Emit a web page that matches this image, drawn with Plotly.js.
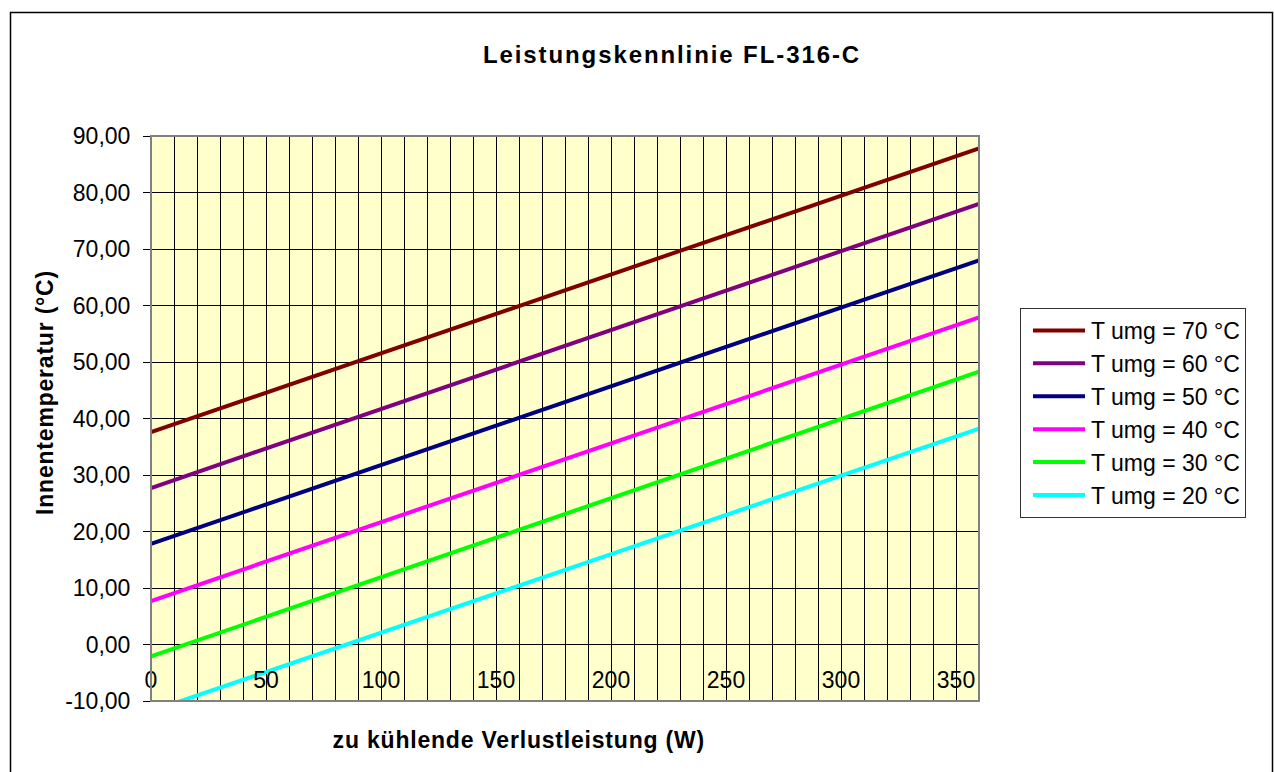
<!DOCTYPE html>
<html>
<head>
<meta charset="utf-8">
<script src="https://cdn.plot.ly/plotly-3.0.1.min.js"></script>
<style>
  html, body { margin: 0; padding: 0; background: #ffffff; }
  #chart { width: 1274px; height: 772px; }
  #chart .gtitle { letter-spacing: 1.9px; }
  #chart .annotation-text { letter-spacing: 0.8px; }
</style>
</head>
<body>
<div id="chart"></div>
<script>
// ---- data ----
const watts = [0, 360];                        // zu kühlende Verlustleistung (W)
const seriesNames = ['T umg = 70 °C', 'T umg = 60 °C', 'T umg = 50 °C',
                     'T umg = 40 °C', 'T umg = 30 °C', 'T umg = 20 °C'];
const tUmg70 = [37.6, 87.8];
const tUmg60 = [27.7, 78.0];
const tUmg50 = [17.8, 68.0];
const tUmg40 = [7.7, 57.9];
const tUmg30 = [-2.1, 48.3];
const tUmg20 = [-11.8, 38.2];
const seriesColors = ['#800000', '#800080', '#000080', '#FF00FF', '#00FF00', '#00FFFF'];

const yTickVals = [-10, 0, 10, 20, 30, 40, 50, 60, 70, 80, 90];
const yTickText = ['-10,00', '0,00', '10,00', '20,00', '30,00', '40,00',
                   '50,00', '60,00', '70,00', '80,00', '90,00'];
const xTickVals = [0, 50, 100, 150, 200, 250, 300, 350];
const xTickText = ['0', '50', '100', '150', '200', '250', '300', '350'];

const chartTitle = 'Leistungskennlinie FL-316-C';
const xTitle = 'zu kühlende Verlustleistung (W)';
const yTitle = 'Innentemperatur (°C)';

// ---- build ----
const FONT = 'Liberation Sans, Arial, sans-serif';
const FS = 23;
const ys = [tUmg70, tUmg60, tUmg50, tUmg40, tUmg30, tUmg20];
const traces = ys.map((y, i) => ({
  type: 'scatter',
  mode: 'lines',
  x: watts,
  y: y,
  name: seriesNames[i],
  legendgroup: 'g' + i,
  line: { color: seriesColors[i], width: 4 },
  hoverinfo: 'x+y+name'
}));

const layout = {
  width: 1274,
  height: 772,
  margin: { l: 151, r: 295, t: 136, b: 71, pad: 0 },
  paper_bgcolor: '#ffffff',
  plot_bgcolor: '#FFFFCC',
  font: { family: FONT, size: FS, color: '#000000' },
  title: {
    text: '<b>' + chartTitle + '</b>',
    font: { family: FONT, size: 24, color: '#000000' },
    xref: 'container', yref: 'container',
    x: 672 / 1274, y: 1 - 55 / 772,
    xanchor: 'center', yanchor: 'middle'
  },
  showlegend: true,
  legend: {
    x: (1020 - 151) / 828, y: (701 - 308) / 565,
    xanchor: 'left', yanchor: 'top',
    bgcolor: '#ffffff',
    bordercolor: '#333333', borderwidth: 1,
    font: { family: FONT, size: FS, color: '#000000' },
    tracegroupgap: 3,
    traceorder: 'normal',
    itemwidth: 60
  },
  xaxis: {
    range: [0, 360],
    anchor: 'free',
    position: 0.066,
    tickmode: 'array',
    tickvals: xTickVals,
    ticktext: xTickText,
    ticks: '',
    showline: false,
    zeroline: false,
    showgrid: true,
    gridcolor: '#000000',
    gridwidth: 1,
    minor: { dtick: 10, showgrid: true, gridcolor: '#000000', gridwidth: 1, ticks: '' },
    tickfont: { family: FONT, size: FS, color: '#000000' },
    fixedrange: true
  },
  yaxis: {
    range: [-10, 90],
    tickmode: 'array',
    tickvals: yTickVals,
    ticktext: yTickText,
    ticks: 'outside',
    ticklen: 7,
    tickwidth: 1,
    tickcolor: '#000000',
    ticklabelstandoff: 8,
    showline: false,
    zeroline: false,
    showgrid: true,
    gridcolor: '#000000',
    gridwidth: 1,
    tickfont: { family: FONT, size: FS, color: '#000000' },
    fixedrange: true
  },
  shapes: [
    { type: 'rect', xref: 'paper', yref: 'paper', x0: 0, x1: 1, y0: 0, y1: 1,
      line: { color: '#808080', width: 2 }, layer: 'above' },
    { type: 'rect', xref: 'paper', yref: 'paper',
      x0: (10.5 - 151) / 828, x1: (1272.5 - 151) / 828,
      y0: (701 - 790) / 565, y1: (701 - 12.5) / 565,
      line: { color: '#000000', width: 1.5 }, layer: 'below' }
  ],
  annotations: [
    { text: '<b>' + xTitle + '</b>', xref: 'paper', yref: 'paper',
      x: (519 - 151) / 828, y: (701 - 740) / 565,
      xanchor: 'center', yanchor: 'middle', showarrow: false,
      font: { family: FONT, size: FS, color: '#000000' } },
    { text: '<b>' + yTitle + '</b>', xref: 'paper', yref: 'paper',
      x: (45 - 151) / 828, y: (701 - 392) / 565, textangle: -90,
      xanchor: 'center', yanchor: 'middle', showarrow: false,
      font: { family: FONT, size: FS, color: '#000000' } }
  ]
};

Plotly.newPlot('chart', traces, layout, { displayModeBar: false }).then(function (gd) {
  // lengthen legend line samples to match the reference's longer keys
  gd.querySelectorAll('.legend .legendlines path').forEach(function (p) {
    p.setAttribute('d', 'M12,0h52');
  });
});
</script>
</body>
</html>
